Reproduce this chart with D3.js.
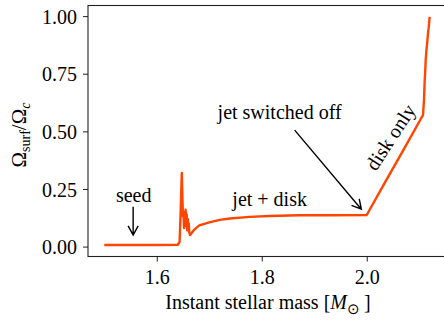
<!DOCTYPE html>
<html>
<head>
<meta charset="utf-8">
<script src="https://cdn.jsdelivr.net/npm/d3@7"></script>
<style>
  html, body { margin: 0; padding: 0; background: #fff; }
  svg { display: block; font-family: "Liberation Serif", "Times New Roman", serif; }
</style>
</head>
<body>
<svg id="chart" width="444" height="323"></svg>
<script>
// Instant stellar mass [Msun]
const mass = [
  1.500, 1.550, 1.600, 1.640, 1.6435, 1.6455, 1.6477, 1.649, 1.650,
  1.651, 1.652, 1.653, 1.654, 1.655, 1.656, 1.657, 1.658, 1.659,
  1.660, 1.661, 1.662, 1.6635, 1.666, 1.672, 1.681, 1.700, 1.720, 1.739,
  1.777, 1.815, 1.872, 1.930, 2.000,
  2.034, 2.070, 2.1072, 2.1091, 2.1104, 2.1112, 2.1123, 2.1130, 2.1136,
  2.1150, 2.1167, 2.1180, 2.1199
];
// Surface angular velocity in units of the critical value
const omegaRatio = [
  0.007, 0.007, 0.007, 0.008, 0.02, 0.15, 0.319, 0.20, 0.13,
  0.14, 0.08, 0.15, 0.10, 0.16, 0.09, 0.14, 0.07, 0.12,
  0.08, 0.10, 0.06, 0.050, 0.058, 0.075, 0.092, 0.105, 0.116, 0.122,
  0.129, 0.133, 0.136, 0.136, 0.137,
  0.275, 0.420, 0.571, 0.636, 0.723, 0.75, 0.810, 0.83, 0.850,
  0.880, 0.925, 0.95, 0.997
];

const xTickValues = [1.6, 1.8, 2.0];
const xTickLabels = ["1.6", "1.8", "2.0"];
const yTickValues = [0.0, 0.25, 0.5, 0.75, 1.0];
const yTickLabels = ["0.00", "0.25", "0.50", "0.75", "1.00"];

// Phase labels and arrows, placed in data coordinates
const phaseLabels = [
  { text: "seed",              x: 1.556, y: 0.195, rotate: 0 },
  { text: "jet + disk",        x: 1.815, y: 0.176, rotate: 0 },
  { text: "jet switched off",  x: 1.834, y: 0.553, rotate: 0 },
  { text: "disk only",         x: 2.045, y: 0.475, rotate: -57 }
];
const phaseArrows = [
  { x0: 1.555, y0: 0.173, x1: 1.555, y1: 0.050 },
  { x0: 1.8627, y0: 0.5055, x1: 1.9897, y1: 0.162 }
];

const svg = d3.select("#chart");
const plotLeft = 88, plotRight = 446, plotTop = 5.5, plotBottom = 256.5;

const x = d3.scaleLinear().domain([1.469, 2.151]).range([plotLeft, plotRight]);
const y = d3.scaleLinear().domain([-0.043, 1.046]).range([plotBottom, plotTop]);

svg.append("defs").append("clipPath").attr("id", "plot-clip")
  .append("rect").attr("x", plotLeft).attr("y", plotTop)
  .attr("width", plotRight - plotLeft).attr("height", plotBottom - plotTop);

// Curve
const points = mass.map((m, i) => [m, omegaRatio[i]]);
svg.append("path")
  .datum(points)
  .attr("clip-path", "url(#plot-clip)")
  .attr("fill", "none")
  .attr("stroke", "#ff4500")
  .attr("stroke-width", 2.4)
  .attr("stroke-linejoin", "round")
  .attr("d", d3.line().x(d => x(d[0])).y(d => y(d[1])));

// Axes
const xAxis = d3.axisBottom(x)
  .tickValues(xTickValues)
  .tickFormat((d, i) => xTickLabels[i])
  .tickSize(5).tickSizeOuter(0).tickPadding(6);
const yAxis = d3.axisLeft(y)
  .tickValues(yTickValues)
  .tickFormat((d, i) => yTickLabels[i])
  .tickSize(5).tickSizeOuter(0).tickPadding(6);

const gx = svg.append("g").attr("transform", `translate(0,${plotBottom})`).call(xAxis);
const gy = svg.append("g").attr("transform", `translate(${plotLeft},0)`).call(yAxis);
[gx, gy].forEach(g => {
  g.selectAll("path.domain").remove();
  g.selectAll(".tick line").attr("stroke", "#222").attr("stroke-width", 1);
  g.selectAll(".tick text")
    .attr("fill", "#000")
    .style("font-family", "'Liberation Serif', serif")
    .style("font-size", "20px");
});
gx.selectAll(".tick text").attr("dy", null).attr("y", 27.5);
gy.selectAll(".tick text").attr("dy", "0.36em");

// Frame
svg.append("rect")
  .attr("x", plotLeft).attr("y", plotTop)
  .attr("width", plotRight - plotLeft).attr("height", plotBottom - plotTop)
  .attr("fill", "none").attr("stroke", "#222").attr("stroke-width", 1.1);

// Axis titles
const xTitle = svg.append("text")
  .attr("x", 268).attr("y", 309)
  .attr("text-anchor", "middle")
  .style("font-size", "20px");
xTitle.append("tspan").text("Instant stellar mass [");
xTitle.append("tspan").style("font-style", "italic").text("M");
xTitle.append("tspan").attr("baseline-shift", "-5").style("font-size", "15px").text("\u2299");
xTitle.append("tspan").text("\u2009]");

const yTitle = svg.append("text")
  .attr("transform", "translate(26,135) rotate(-90)")
  .attr("text-anchor", "middle")
  .style("font-size", "21px");
yTitle.append("tspan").text("\u03A9");
yTitle.append("tspan").attr("baseline-shift", "-4").style("font-size", "14px").text("surf");
yTitle.append("tspan").text("/\u03A9");
yTitle.append("tspan").attr("baseline-shift", "-4").style("font-size", "14px").style("font-style", "italic").text("c");

// Annotations
svg.selectAll("text.phase")
  .data(phaseLabels)
  .join("text")
  .attr("class", "phase")
  .attr("text-anchor", "middle")
  .attr("transform", d => `translate(${x(d.x)},${y(d.y)}) rotate(${d.rotate})`)
  .attr("dy", d => d.rotate ? "0.35em" : 0)
  .style("font-size", "20px")
  .text(d => d.text);

phaseArrows.forEach(a => {
  const X0 = x(a.x0), Y0 = y(a.y0), X1 = x(a.x1), Y1 = y(a.y1);
  const ang = Math.atan2(Y1 - Y0, X1 - X0);
  const len = 10.5, spread = 0.5;
  const h1 = [X1 - len * Math.cos(ang - spread), Y1 - len * Math.sin(ang - spread)];
  const h2 = [X1 - len * Math.cos(ang + spread), Y1 - len * Math.sin(ang + spread)];
  svg.append("path")
    .attr("d", `M${X0},${Y0}L${X1},${Y1}M${h1[0]},${h1[1]}L${X1},${Y1}L${h2[0]},${h2[1]}`)
    .attr("fill", "none").attr("stroke", "#000").attr("stroke-width", 1.4);
});
</script>
</body>
</html>
